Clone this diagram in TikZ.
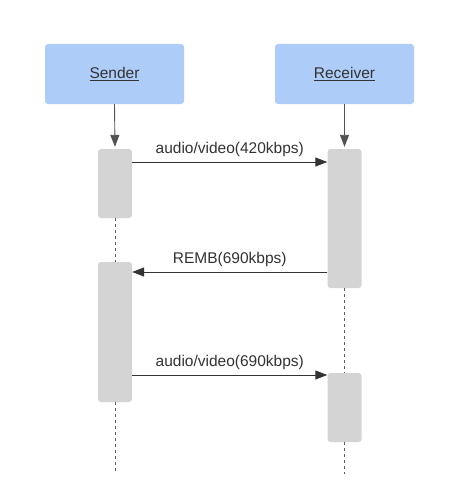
\documentclass[tikz,border=0pt]{standalone}
\usepackage{fontspec}
\setmainfont{Liberation Sans}
\usetikzlibrary{arrows.meta}
\definecolor{boxblue}{HTML}{ADCCF8}
\definecolor{actgray}{HTML}{D4D4D4}
\definecolor{ink}{HTML}{333333}
\begin{document}
\begin{tikzpicture}[x=1pt,y=-1pt,
	actor/.style={rectangle,rounded corners=3pt,fill=boxblue,minimum width=139pt,minimum height=60pt,text=ink,font=\fontsize{15.5}{18}\selectfont},
	act/.style={rectangle,rounded corners=3pt,fill=actgray,minimum width=34pt,inner sep=0pt},
	msg/.style={draw=ink,line width=0.9pt,-{Triangle[length=12pt,width=9pt]}},
	life/.style={draw=ink!80,line width=0.8pt,dash pattern=on 3pt off 3pt},
	lbl/.style={text=ink,font=\fontsize{15.5}{18}\selectfont,above=2pt}]
		\useasboundingbox (0,0) rectangle (471,487);
		
		%heads
		\node[actor] (sender) at (114.5,74) {\underline{Sender}};
		\node[actor] (receiver) at (344.5,74) {\underline{Receiver}};
		
		%activations
		\node[act,minimum height=69pt] (s1) at (115,183.5) {};
		\node[act,minimum height=140pt] (s2) at (115,332) {};
		\node[act,minimum height=139pt] (r1) at (344.5,218.5) {};
		\node[act,minimum height=69pt] (r2) at (344.5,407.5) {};
		\coordinate (send) at (115,474);
		\coordinate (rend) at (344.5,474);
		
		%lifelines
		\draw[life] (s1.south) -- (s2.north);
		\draw[life] (s2.south) -- (send);
		\draw[life] (r1.south) -- (r2.north);
		\draw[life] (r2.south) -- (rend);
		\draw[msg,draw=ink!85] (sender.south) -- ([yshift=2pt]s1.north);
		\draw[msg,draw=ink!85] (receiver.south) -- ([yshift=2pt]r1.north);
		
		%messages
		\draw[msg] (s1.east |- 0,162) -- (r1.west |- 0,162) node[lbl,midway] {audio/video(420kbps)};
		\draw[msg] (r1.west |- 0,272) -- (s2.east |- 0,272) node[lbl,midway] {REMB(690kbps)};
		\draw[msg] (s2.east |- 0,375) -- (r2.west |- 0,375) node[lbl,midway] {audio/video(690kbps)};
	\end{tikzpicture}
\end{document}
